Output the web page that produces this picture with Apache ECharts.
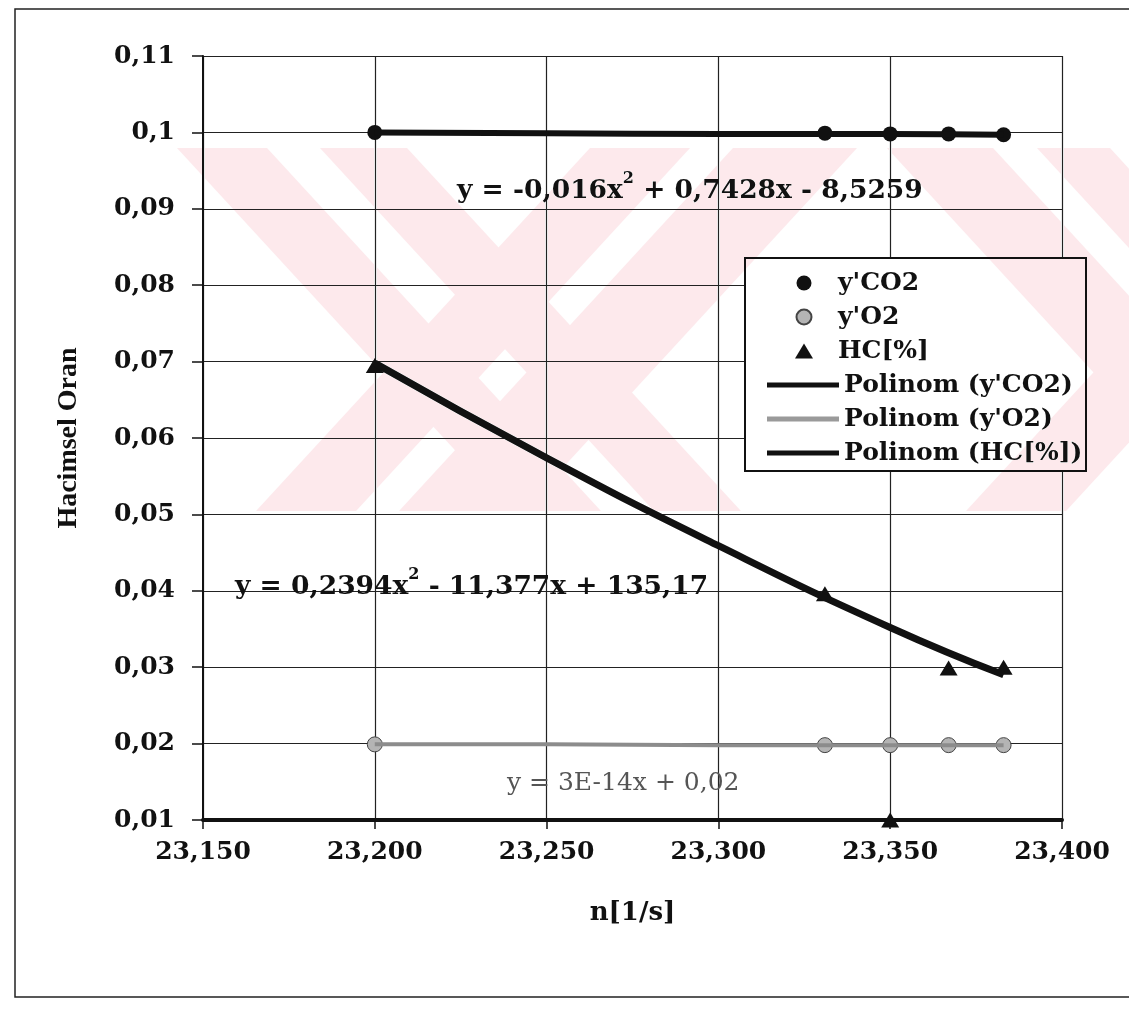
<!DOCTYPE html>
<html>
<head>
<meta charset="utf-8">
<style>
  html, body { margin: 0; padding: 0; background: #ffffff; }
  #chart { width: 1129px; height: 1015px; }
</style>
<script src="https://cdn.jsdelivr.net/npm/echarts@6/dist/echarts.min.js"></script>
</head>
<body>
<div id="chart"></div>
<script>
// Measured points: engine speed n (x1000 1/s) and volume fractions
const speeds = [23.2, 23.331, 23.35, 23.367, 23.383];
const co2Values = [0.1, 0.0999, 0.0998, 0.0998, 0.0997];
const o2Values = [0.0199, 0.0198, 0.0198, 0.0198, 0.0198];
const hcValues = [0.0695, 0.0396, 0.01, 0.0299, 0.03];

// Polynomial trend curves, sampled along the speed range
const trendSpeeds = [23.2, 23.25, 23.3, 23.35, 23.383];
const co2Trend = [0.1, 0.0999, 0.0998, 0.0998, 0.0997];
const o2Trend = [0.0199, 0.0199, 0.0198, 0.0198, 0.0198];
const hcTrend = [0.0698, 0.0574, 0.0459, 0.0352, 0.029];

// Axis ticks
const xTicks = { min: 23.15, max: 23.4, step: 0.05 };
const yTicks = { min: 0.01, max: 0.11, step: 0.01 };

const seriesNames = ["y'CO2", "y'O2", "HC[%]", "Polinom (y'CO2)", "Polinom (y'O2)", "Polinom (HC[%])"];

const SERIF = '"DejaVu Serif", "Liberation Serif", serif';
const TIMES = '"Liberation Serif", "Times New Roman", serif';
const pair = (xs, ys) => xs.map((x, i) => [x, ys[i]]);

// Diagonal background stamp: each band is [left, right] at its top edge and a direction
const stamp = { top: 148, bottom: 511, slope: 0.92 };
const stampBands = [
  [177, 267, 1], [320, 407, 1],
  [590, 690, -1], [733, 857, -1],
  [887, 993, 1], [1037, 1110, 1],
  [1300, 1400, -1]
];
function stampPolygons() {
  const h = stamp.bottom - stamp.top;
  return stampBands.map(([a, b, d]) => {
    const dx = d * stamp.slope * h;
    return {
      type: 'polygon', z: 20, silent: true,
      shape: { points: [[a, stamp.top], [b, stamp.top], [b + dx, stamp.bottom], [a + dx, stamp.bottom]] },
      // 'darken' keeps dark ink dark and lets overlapping bands stay one tint
      style: { fill: '#fde9ec', blend: 'darken' }
    };
  });
}

const chart = echarts.init(document.getElementById('chart'), null, { renderer: 'canvas' });

const eqRich = {
  a: { fontFamily: SERIF, fontWeight: 'bold', fontSize: 26.5, fill: '#111', lineHeight: 34, verticalAlign: 'bottom' },
  s: { fontFamily: SERIF, fontWeight: 'bold', fontSize: 16, fill: '#111', lineHeight: 34, verticalAlign: 'top' }
};

const option = {
  backgroundColor: '#ffffff',
  animation: false,
  grid: { left: 203, top: 56, right: 67, bottom: 195, containLabel: false },
  xAxis: {
    type: 'value',
    min: xTicks.min, max: xTicks.max, interval: xTicks.step,
    name: 'n[1/s]', nameLocation: 'middle', nameGap: 80,
    nameTextStyle: { fontFamily: SERIF, fontWeight: 'bold', fontSize: 26, color: '#111' },
    axisLine: { show: true, onZero: false, lineStyle: { color: '#111', width: 4 } },
    axisTick: { show: true, inside: false, length: 9, lineStyle: { color: '#111', width: 1.5 } },
    axisLabel: {
      margin: 20, fontFamily: SERIF, fontWeight: 'bold', fontSize: 25, color: '#111',
      formatter: v => v.toFixed(3).replace('.', ',')
    },
    splitLine: { show: true, lineStyle: { color: '#222', width: 1.2 } }
  },
  yAxis: {
    type: 'value',
    min: yTicks.min, max: yTicks.max, interval: yTicks.step,
    name: 'Hacimsel Oran', nameLocation: 'middle', nameGap: 120, nameRotate: 90,
    nameTextStyle: { fontFamily: TIMES, fontWeight: 'bold', fontSize: 28, color: '#111' },
    axisLine: { show: true, onZero: false, lineStyle: { color: '#111', width: 2 } },
    axisTick: { show: true, inside: false, length: 11, lineStyle: { color: '#111', width: 1.5 } },
    axisLabel: {
      margin: 28, fontFamily: SERIF, fontWeight: 'bold', fontSize: 25, color: '#111',
      formatter: v => String(+v.toFixed(2)).replace('.', ',')
    },
    splitLine: { show: true, lineStyle: { color: '#222', width: 1.2 } }
  },
  legend: [
    {
      data: seriesNames.slice(0, 3),
      orient: 'vertical', left: 790, top: 261,
      itemWidth: 18, itemHeight: 15, itemGap: 0,
      textStyle: { fontFamily: SERIF, fontWeight: 'bold', fontSize: 25, color: '#111', lineHeight: 34, padding: [0, 0, 0, 20] },
      selectedMode: false
    },
    {
      data: seriesNames.slice(3),
      orient: 'vertical', left: 762, top: 363, icon: 'rect',
      itemWidth: 72, itemHeight: 5, itemGap: 0,
      textStyle: { fontFamily: SERIF, fontWeight: 'bold', fontSize: 25, color: '#111', lineHeight: 34 },
      selectedMode: false
    }
  ],
  series: [
    {
      name: seriesNames[0], type: 'scatter', z: 3,
      data: pair(speeds, co2Values),
      symbol: 'circle', symbolSize: 15,
      itemStyle: { color: '#111', opacity: 1 }
    },
    {
      name: seriesNames[1], type: 'scatter', z: 3,
      data: pair(speeds, o2Values),
      symbol: 'circle', symbolSize: 15,
      itemStyle: { color: '#b4b4b4', borderColor: '#444', borderWidth: 1, opacity: 1 }
    },
    {
      name: seriesNames[2], type: 'scatter', z: 3,
      data: pair(speeds, hcValues),
      symbol: 'triangle', symbolSize: [18, 15],
      itemStyle: { color: '#111', opacity: 1 }
    },
    {
      name: seriesNames[3], type: 'line', z: 4,
      data: pair(trendSpeeds, co2Trend),
      symbol: 'none', smooth: true,
      lineStyle: { color: '#111', width: 6 }, itemStyle: { color: '#111' }
    },
    {
      name: seriesNames[4], type: 'line', z: 4,
      data: pair(trendSpeeds, o2Trend),
      symbol: 'none', smooth: true,
      lineStyle: { color: '#8c8c8c', width: 4 }, itemStyle: { color: '#9a9a9a' }
    },
    {
      name: seriesNames[5], type: 'line', z: 4,
      data: pair(trendSpeeds, hcTrend),
      symbol: 'none', smooth: true,
      lineStyle: { color: '#111', width: 7 }, itemStyle: { color: '#111' }
    }
  ],
  graphic: [
    // outer frame of the figure
    { type: 'rect', z: 1, shape: { x: 15, y: 9, width: 1140, height: 988 },
      style: { fill: 'none', stroke: '#222', lineWidth: 1.5 } },
    // legend box
    { type: 'rect', z: 3, shape: { x: 745, y: 258, width: 341, height: 213 },
      style: { fill: '#ffffff', stroke: '#111', lineWidth: 2 } },
    // trend line equations
    { type: 'text', z: 5, left: 457, top: 171,
      style: { text: '{a|y = -0,016x}{s|2}{a| + 0,7428x - 8,5259}', rich: eqRich } },
    { type: 'text', z: 5, left: 235, top: 567,
      style: { text: '{a|y = 0,2394x}{s|2}{a| - 11,377x + 135,17}', rich: eqRich } },
    { type: 'text', z: 5, left: 507, top: 771,
      style: { text: 'y = 3E-14x + 0,02', fontFamily: SERIF, fontSize: 25, fill: '#555' } }
  ].concat(stampPolygons())
};

chart.setOption(option);
</script>
</body>
</html>
